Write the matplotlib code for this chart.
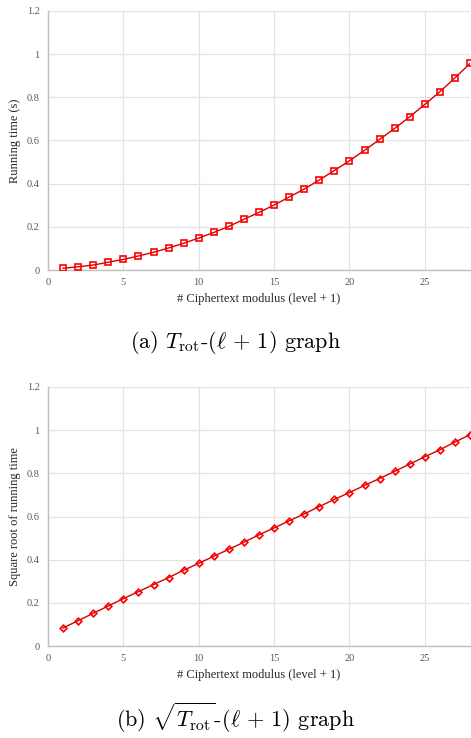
import matplotlib
matplotlib.use("Agg")
import matplotlib.pyplot as plt
from matplotlib.ticker import FuncFormatter, MultipleLocator

levels = list(range(1, 29))
running_time = [0.008, 0.015, 0.023, 0.036, 0.049, 0.065, 0.082, 0.102, 0.124, 0.148,
                0.174, 0.202, 0.235, 0.267, 0.301, 0.338, 0.375, 0.417, 0.461, 0.506,
                0.554, 0.605, 0.656, 0.710, 0.767, 0.826, 0.890, 0.957]
sqrt_time = [0.0835, 0.1175, 0.1515, 0.1855, 0.2195, 0.252, 0.2845, 0.317, 0.351, 0.383,
             0.416, 0.448, 0.481, 0.515, 0.547, 0.580, 0.612, 0.646, 0.679, 0.711,
             0.744, 0.776, 0.809, 0.843, 0.877, 0.909, 0.945, 0.979]

xlabel = "# Ciphertext modulus (level + 1)"
ylabels = ["Running time (s)", "Square root of running time"]
captions = [r"(a) $T_{\mathrm{rot}}$-$(\ell\,+\,1)$ graph",
            r"(b) $\sqrt{T_{\mathrm{rot}}}$-$(\ell\,+\,1)$ graph"]

plt.rcParams['mathtext.fontset'] = 'cm'
plt.rcParams['font.family'] = ['Liberation Serif', 'DejaVu Serif']

fig = plt.figure(figsize=(4.71, 7.38), dpi=100)
axes_rects = [[48/471, 1-270/738, 422/471, 259/738],
              [48/471, 1-646/738, 422/471, 259/738]]
series = [running_time, sqrt_time]
markers = ['s', 'D']
msizes = [4.7, 3.4]
caption_y = [1-343/738, 1-718/738]

for i in range(2):
    ax = fig.add_axes(axes_rects[i])
    ax.plot(levels, series[i], color='#d40000', lw=1.0, marker=markers[i],
            markersize=msizes[i], markerfacecolor='none', markeredgecolor='#ff0000',
            markeredgewidth=1.2, zorder=3)
    ax.set_xlim(0, 28)
    ax.set_ylim(0, 1.2)
    ax.xaxis.set_major_locator(MultipleLocator(5))
    ax.yaxis.set_major_locator(MultipleLocator(0.2))
    ax.yaxis.set_major_formatter(FuncFormatter(lambda v, p: "%g" % round(v, 2)))
    ax.grid(True, color='#e3e3e3', lw=0.9)
    ax.set_axisbelow(True)
    for s in ['top', 'right']:
        ax.spines[s].set_visible(False)
    for s in ['left', 'bottom']:
        ax.spines[s].set_color('#bfbfbf')
        ax.spines[s].set_linewidth(1.0)
    ax.tick_params(length=0, labelsize=7.5, labelcolor='#595959', pad=6)
    ax.set_xlabel(xlabel, fontsize=9, color='#262626', labelpad=4)
    ax.set_ylabel(ylabels[i], fontsize=9, color='#262626', labelpad=4)
    fig.text(0.5, caption_y[i], captions[i], ha='center', va='center',
             fontsize=16, family='cmr10')

fig.savefig("out.png", dpi=100)
